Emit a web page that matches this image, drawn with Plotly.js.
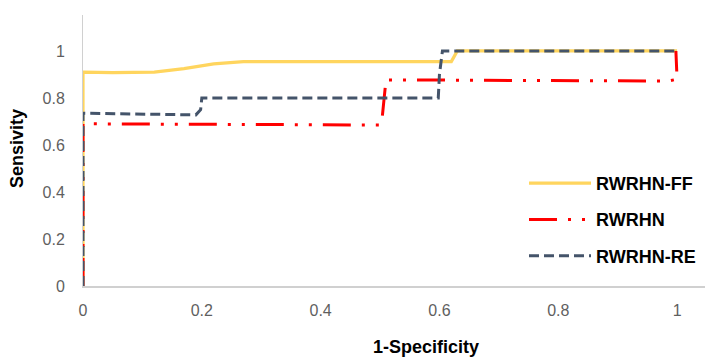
<!DOCTYPE html>
<html>
<head>
<meta charset="utf-8">
<script src="https://cdn.plot.ly/plotly-3.0.1.min.js"></script>
<style>html,body{margin:0;padding:0;background:#fff;}#chart{width:709px;height:360px;}</style>
</head>
<body>
<div id="chart"></div>
<script>
// Series
const ffX = [0, 0, 0.05, 0.12, 0.17, 0.22, 0.27, 0.4, 0.6, 0.62, 0.63, 1];
const ffY = [0, 0.91, 0.908, 0.91, 0.925, 0.945, 0.955, 0.955, 0.952, 0.955, 1.0, 1.0];

const rwX = [0, 0, 0.5, 0.503, 0.51, 0.985, 1, 0.998];
const rwY = [0, 0.69, 0.685, 0.70, 0.877, 0.872, 0.88, 1.0];

const reX = [0, 0, 0.19, 0.198, 0.2, 0.598, 0.6, 0.605, 1];
const reY = [0, 0.735, 0.728, 0.75, 0.8, 0.8, 0.9, 1.0, 1.0];

const seriesNames = ["RWRHN-FF", "RWRHN", "RWRHN-RE"];
const tickVals = [0, 0.2, 0.4, 0.6, 0.8, 1];
const tickText = ["0", "0.2", "0.4", "0.6", "0.8", "1"];

const traces = [
  {x: ffX, y: ffY, name: seriesNames[0], legendgroup: "a", mode: "lines",
   line: {color: "#FFD55E", width: 3.2, shape: "linear"}},
  {x: rwX, y: rwY, name: seriesNames[1], legendgroup: "b", mode: "lines",
   line: {color: "#FF0000", width: 3, shape: "linear", dash: "28px,11px,3px,11px,3px,11px"}},
  {x: reX, y: reY, name: seriesNames[2], legendgroup: "c", mode: "lines",
   line: {color: "#44546A", width: 3, shape: "linear", dash: "10px,5px"}}
];

const tickFont = {family: "Liberation Sans, Arial, sans-serif", size: 16, color: "#5f5f5f"};
const layout = {
  width: 709, height: 360,
  margin: {l: 83, r: 4, t: 15, b: 74},
  paper_bgcolor: "#fff", plot_bgcolor: "#fff",
  showlegend: true,
  legend: {x: 0.709, y: 0.447, xanchor: "left", yanchor: "top", traceorder: "grouped",
           tracegroupgap: 10, itemwidth: 62, bgcolor: "rgba(0,0,0,0)",
           font: {family: "Liberation Sans, Arial, sans-serif", size: 18, color: "#000", weight: "bold"}},
  xaxis: {range: [0, 1.047], tickvals: tickVals, ticktext: tickText, showgrid: false, zeroline: false,
          showline: true, linecolor: "#d0d0d0", linewidth: 1.5, ticks: "", tickfont: tickFont,
          ticklabelstandoff: 9, fixedrange: true},
  yaxis: {range: [0, 1.153], tickvals: tickVals, ticktext: tickText, showgrid: false, zeroline: false,
          showline: true, linecolor: "#d0d0d0", linewidth: 1, ticks: "", tickfont: tickFont,
          ticklabelstandoff: 14, fixedrange: true},
  annotations: [
    {text: "<b>1-Specificity</b>", xref: "paper", yref: "paper", x: (426 - 83) / 622, y: -(347 - 286) / 271,
     xanchor: "center", yanchor: "middle", showarrow: false,
     font: {family: "Liberation Sans, Arial, sans-serif", size: 18, color: "#000"}},
    {text: "<b>Sensivity</b>", xref: "paper", yref: "paper", x: (17 - 83) / 622, y: (286 - 149) / 271,
     xanchor: "center", yanchor: "middle", textangle: -90, showarrow: false,
     font: {family: "Liberation Sans, Arial, sans-serif", size: 18, color: "#000"}}
  ]
};
Plotly.newPlot("chart", traces, layout, {displayModeBar: false, staticPlot: true});
</script>
</body>
</html>
